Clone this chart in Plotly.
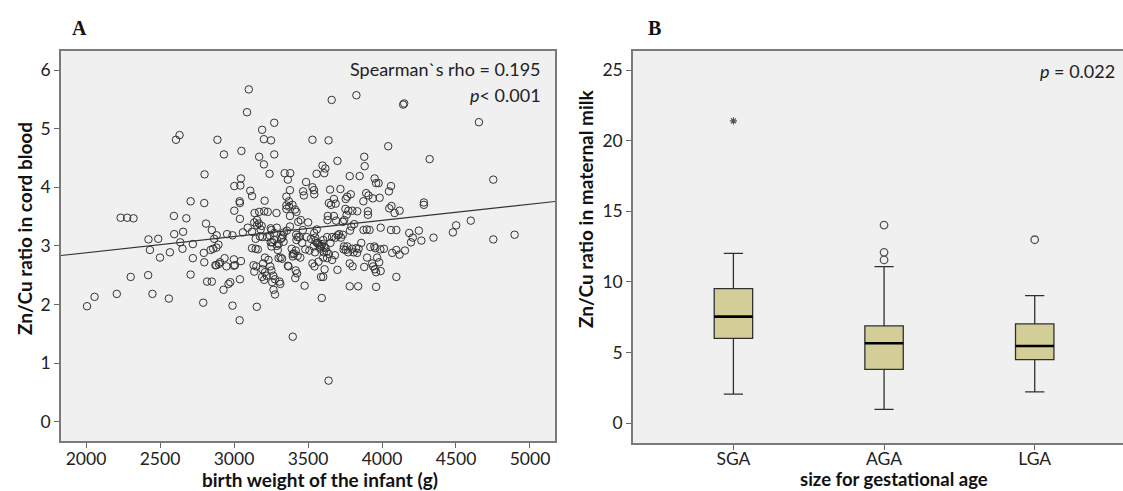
import plotly.graph_objects as go

# ---------------- Panel A data (birth weight g, Zn/Cu ratio cord blood) ----------------
birth_weight = [
    3100, 3088, 3660, 3827, 4143, 4150, 4655, 2632, 2608, 2888, 2932, 3050, 3190, 3202, 3250,
    3272, 3272, 3170, 3202, 3240, 3530, 3639, 3699, 4042, 3880, 3883, 4322, 4752, 2801, 3002,
    3047, 3043, 3110, 3122, 3342, 3380, 3364, 3378, 3487, 3530, 3540, 3542, 3467, 3472, 3558,
    3598, 3617, 3610, 3649, 3719, 3782, 3849, 3893, 3950, 3960, 3977, 3909, 3938, 3984, 4061,
    4047, 4283, 4283, 4119, 4085, 4049, 4064, 3874, 3905, 3905, 3833, 3799, 3773, 3753, 3761,
    3755, 3765, 3789, 3675, 3641, 3656, 3687, 3675, 3634, 3632, 3690, 3735, 3745, 3793, 3812,
    3784, 3735, 3723, 3687, 3663, 3629, 3603, 3595, 3619, 3607, 3583, 3603, 3571, 3547, 3544,
    3530, 3482, 3509, 3460, 3492, 3465, 3501, 3451, 3434, 3422, 3373, 3354, 3354, 3371, 3354,
    3378, 3378, 3357, 3337, 3325, 3335, 3420, 3429, 3422, 3441, 3417, 3397, 3397, 3417, 3414,
    3426, 3368, 3390, 3301, 3296, 3301, 3315, 3325, 3364, 3253, 3260, 3272, 3248, 3272, 3243,
    3248, 3253, 3289, 3287, 3228, 3204, 3170, 3156, 3139, 3137, 3168, 3187, 3175, 3192, 3224,
    3146, 3207, 3122, 3093, 3060, 3040, 3002, 3038, 3040, 2953, 2990, 2866, 2883, 2895, 2881,
    2842, 2859, 2796, 2811, 2850, 2799, 2707, 2678, 2656, 2594, 2596, 2637, 2652, 2722, 2722,
    2567, 2500, 2488, 2422, 2432, 2234, 2278, 2321, 2302, 2420, 2449, 2560, 2208, 2058, 2007,
    2707, 2792, 2799, 2818, 2850, 2874, 2880, 2905, 2898, 2936, 2949, 2929, 2963, 2975, 2999,
    3006, 2999, 3047, 3040, 2990, 3038, 3154, 3122, 3132, 3151, 3137, 3146, 3161, 3197, 3209,
    3233, 3192, 3209, 3190, 3204, 3221, 3265, 3245, 3253, 3267, 3277, 3308, 3313, 3277, 3258,
    3397, 3639, 3593, 3588, 3603, 3612, 3477, 3629, 3641, 3663, 3699, 3682, 3743, 3755, 3771,
    3765, 3740, 3799, 3808, 3825, 3832, 3782, 3801, 3782, 3839, 3880, 3899, 3921, 3948, 3955,
    3933, 3940, 3952, 3960, 3981, 3991, 3967, 3989, 3960, 4013, 3991, 3916, 3897, 3875, 4061,
    4097, 4069, 4097, 4119, 4155, 4097, 4184, 4196, 4208, 4249, 4266, 4348, 4479, 4501, 4600,
    4752, 4896, 3542, 3559, 3549, 3551, 3575, 3538, 3566, 3520, 3590, 3610, 3430, 3448, 3405,
    3318, 3290, 3155, 3180, 3412, 3395, 3560, 3580, 3626, 3652, 3700, 3710, 3842, 3860, 3330,
]
zn_cu_cord = [
    5.67, 5.28, 5.49, 5.57, 5.41, 5.43, 5.11, 4.89, 4.81, 4.81, 4.56, 4.62, 4.98, 4.82, 4.80,
    5.10, 4.56, 4.52, 4.39, 4.23, 4.81, 4.80, 4.45, 4.70, 4.52, 4.36, 4.48, 4.13, 4.22, 4.02,
    4.15, 4.03, 3.94, 3.85, 4.24, 4.24, 4.13, 3.95, 4.09, 4.00, 3.95, 3.88, 3.93, 3.86, 4.23,
    4.37, 4.32, 4.24, 3.96, 3.97, 4.19, 4.19, 3.90, 4.15, 4.07, 4.07, 3.86, 3.81, 3.82, 4.02,
    3.93, 3.74, 3.70, 3.60, 3.56, 3.64, 3.68, 3.76, 3.59, 3.53, 3.59, 3.60, 3.60, 3.63, 3.53,
    3.80, 3.84, 3.88, 3.80, 3.73, 3.70, 3.72, 3.51, 3.51, 3.44, 3.43, 3.41, 3.44, 3.33, 3.37,
    3.26, 3.19, 3.14, 3.14, 3.15, 3.15, 3.10, 3.03, 2.96, 2.89, 2.95, 2.80, 2.73, 2.89, 2.65,
    2.70, 2.94, 2.92, 3.05, 3.15, 3.27, 3.40, 3.44, 3.41, 3.58, 3.67, 3.69, 3.63, 3.76, 3.84,
    3.51, 3.33, 3.26, 3.23, 3.14, 3.07, 3.19, 3.15, 3.10, 3.15, 2.92, 2.86, 2.82, 2.58, 2.45,
    2.53, 2.65, 2.95, 3.03, 2.93, 2.79, 2.80, 2.78, 2.66, 2.99, 3.06, 3.10, 3.06, 3.22, 3.17,
    3.30, 3.27, 3.31, 3.56, 3.58, 3.59, 3.58, 3.44, 3.56, 3.40, 3.38, 3.34, 3.16, 3.15, 3.15,
    3.12, 3.77, 3.24, 3.31, 3.23, 3.46, 3.60, 3.76, 3.73, 3.20, 3.18, 3.12, 3.18, 3.02, 2.97,
    2.93, 2.95, 2.88, 3.38, 3.27, 3.73, 3.76, 3.47, 3.24, 3.51, 3.20, 3.06, 2.95, 3.03, 2.79,
    2.89, 2.80, 3.12, 3.11, 2.93, 3.48, 3.48, 3.47, 2.47, 2.50, 2.18, 2.10, 2.18, 2.13, 1.97,
    2.51, 2.03, 2.72, 2.39, 2.39, 2.67, 2.67, 2.72, 2.69, 2.79, 2.65, 2.25, 2.35, 2.38, 2.77,
    2.67, 2.66, 2.74, 2.43, 1.98, 1.73, 1.96, 2.96, 2.67, 2.65, 2.56, 2.95, 2.94, 2.70, 2.80,
    2.76, 2.60, 2.55, 2.47, 2.42, 2.49, 2.49, 2.65, 2.58, 2.25, 2.17, 2.39, 2.35, 2.43, 2.38,
    1.45, 0.70, 2.11, 2.47, 2.47, 2.60, 2.32, 2.79, 2.86, 2.76, 2.59, 2.84, 2.99, 2.93, 2.89,
    2.99, 2.94, 2.95, 2.89, 2.96, 2.88, 2.70, 2.65, 2.31, 2.31, 2.64, 2.80, 2.98, 2.99, 2.96,
    2.70, 2.65, 2.60, 2.55, 2.72, 2.57, 2.80, 2.94, 2.30, 2.95, 3.31, 3.27, 3.28, 3.27, 3.27,
    3.27, 2.88, 2.93, 2.85, 2.92, 2.47, 3.22, 3.06, 3.14, 3.26, 3.09, 3.14, 3.23, 3.35, 3.43,
    3.11, 3.19, 3.22, 3.28, 3.14, 3.08, 3.02, 2.99, 3.05, 3.12, 3.00, 2.98, 2.83, 2.80, 2.87,
    3.12, 3.00, 3.35, 3.28, 3.62, 3.70, 3.05, 2.98, 2.90, 3.05, 3.18, 3.20, 2.95, 3.05, 3.18,
]
# regression line
fit_intercept = 2.330
fit_slope = 0.000276
x_range_a = [1831, 5169]

# ---------------- Panel B data (Zn/Cu ratio in maternal milk) ----------------
groups = ["SGA", "AGA", "LGA"]
q1 = [6.01, 3.82, 4.50]
median = [7.55, 5.66, 5.47]
q3 = [9.53, 6.89, 7.03]
lower_whisker = [2.07, 0.99, 2.22]
upper_whisker = [12.03, 11.08, 9.03]
extreme_group = [0]
extreme_value = [21.4]
outlier_group = [1, 1, 1, 2]
outlier_value = [14.03, 12.10, 11.56, 12.99]

W, H = 1123, 491
fig = go.Figure()

# Panel A scatter
fig.add_trace(go.Scatter(
    x=birth_weight, y=zn_cu_cord, mode="markers",
    marker=dict(symbol="circle-open", size=7.5, color="#333333", line=dict(width=1, color="#333333")),
    xaxis="x", yaxis="y", showlegend=False, hoverinfo="skip"))
fig.add_trace(go.Scatter(
    x=x_range_a, y=[fit_intercept + fit_slope * v for v in x_range_a], mode="lines",
    line=dict(color="#333333", width=1.2), xaxis="x", yaxis="y", showlegend=False, hoverinfo="skip"))

# Panel B boxes
box_w = 0.255
for i, g in enumerate(groups):
    fig.add_trace(go.Box(
        x=[i], q1=[q1[i]], median=[median[i]], q3=[q3[i]],
        lowerfence=[lower_whisker[i]], upperfence=[upper_whisker[i]],
        width=box_w, whiskerwidth=0.5, fillcolor="#D3CE97",
        line=dict(color="#303030", width=1.3), boxpoints=False,
        xaxis="x2", yaxis="y2", showlegend=False, hoverinfo="skip"))
    fig.add_trace(go.Scatter(
        x=[i - box_w / 2, i + box_w / 2], y=[median[i], median[i]], mode="lines",
        line=dict(color="#000000", width=2.6), xaxis="x2", yaxis="y2",
        showlegend=False, hoverinfo="skip"))

fig.add_trace(go.Scatter(
    x=outlier_group, y=outlier_value, mode="markers",
    marker=dict(symbol="circle-open", size=7.5, color="#555555", line=dict(width=1.3, color="#555555")),
    xaxis="x2", yaxis="y2", showlegend=False, hoverinfo="skip"))
fig.add_trace(go.Scatter(
    x=extreme_group, y=extreme_value, mode="markers",
    marker=dict(symbol="asterisk-open", size=6, color="#555555", line=dict(width=1.2, color="#555555")),
    xaxis="x2", yaxis="y2", showlegend=False, hoverinfo="skip"))

tick_font = dict(family="Lato", size=17.5, color="#222222")
axis_common = dict(showgrid=False, zeroline=False, showline=True, linecolor="#7a7a7a", linewidth=1.5,
                   ticks="outside", ticklen=5, tickcolor="#666666", tickwidth=1.2, tickfont=tick_font)

ya_bot, ya_top = 1 - 441 / H, 1 - 50.7 / H
yb_bot = 1 - 443.3 / H

fig.update_layout(
    width=W, height=H, margin=dict(l=0, r=0, t=0, b=0),
    paper_bgcolor="white", plot_bgcolor="#F0F0F0",
    xaxis=dict(domain=[61 / W, 555 / W], range=x_range_a, tickvals=[2000, 2500, 3000, 3500, 4000, 4500, 5000],
               mirror=True, anchor="y", ticklabelstandoff=-4, **axis_common),
    yaxis=dict(domain=[ya_bot, ya_top], range=[-0.33, 6.33], tickvals=[0, 1, 2, 3, 4, 5, 6],
               mirror=True, anchor="x", **axis_common),
    xaxis2=dict(domain=[633 / W, 1.0], range=[-0.6665, 2.586], tickvals=[0, 1, 2], ticktext=groups,
                mirror=True, anchor="y2", ticklabelstandoff=-6, **axis_common),
    yaxis2=dict(domain=[yb_bot, ya_top], range=[-1.415, 26.366], tickvals=[0, 5, 10, 15, 20, 25],
                mirror=False, anchor="x2", **axis_common),
)


def px_x(v):
    return v / W


def px_y(v):
    return 1 - v / H


title_font = dict(family="Lato", size=19, color="#111111")
note_font = dict(family="Lato", size=18, color="#222222")
ann = [
    dict(text="<b>birth weight of the infant (g)</b>", x=px_x(320), y=px_y(479), font=title_font),
    dict(text="<b>Zn/Cu ratio in cord blood</b>", x=px_x(25), y=px_y(229), font=title_font, textangle=-90),
    dict(text="<b>Zn/Cu ratio in maternal milk</b>", x=px_x(585), y=px_y(209), font=title_font, textangle=-90),
    dict(text="<b>size for gestational age</b>", x=px_x(894), y=px_y(478.5),
         font=dict(family="Lato", size=18.5, color="#111111")),
    dict(text="<b>A</b>", x=px_x(79), y=px_y(28), font=dict(family="Liberation Serif", size=20, color="#111111")),
    dict(text="<b>B</b>", x=px_x(654), y=px_y(28), font=dict(family="Liberation Serif", size=20, color="#111111")),
    dict(text="Spearman`s rho = 0.195", x=px_x(543), y=px_y(69), xanchor="right", font=note_font),
    dict(text="<i>p</i>< 0.001", x=px_x(543), y=px_y(95), xanchor="right", font=note_font),
    dict(text="<i>p</i> = 0.022", x=px_x(1117), y=px_y(71), xanchor="right", font=note_font),
]
for a in ann:
    a.setdefault("xanchor", "center")
    a.setdefault("yanchor", "middle")
    a.update(xref="paper", yref="paper", showarrow=False)
fig.update_layout(annotations=ann)

fig.write_html("out.html", config={"displayModeBar": False},
               post_script="document.body.style.margin='0';document.body.style.overflow='hidden';")
